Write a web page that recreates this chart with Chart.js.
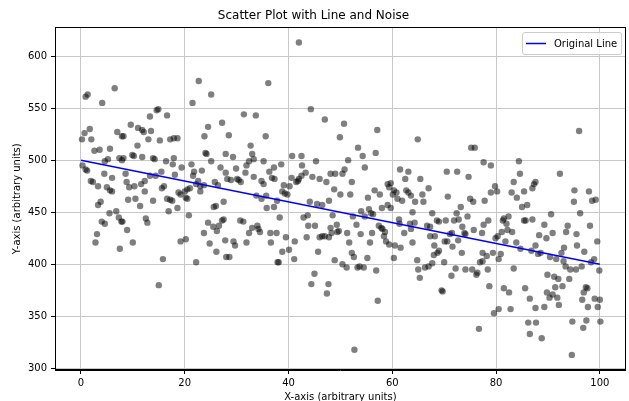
<!DOCTYPE html>
<html lang="en">
<head>
  <meta charset="UTF-8">
  <title>Scatter Plot with Line and Noise</title>
  <script src="https://cdn.jsdelivr.net/npm/chart.js"></script>
  <style>
    html, body { margin: 0; padding: 0; background: #fff; }
  </style>
</head>
<body>
  <canvas id="scatter-chart" width="629" height="401"></canvas>

  <script>
    // straight reference line
    const lineX = [0, 100];
    const lineY = [500, 400];

    // noisy samples left to right
    const noiseX = [
      0.9, 1.3, 6.5, 4.1, 1.7, 0.7, 0.2, 2.0, 7.0, 7.9, 2.6, 3.6, 5.6, 4.6, 5.2, 7.4, 7.9, 0.3, 0.9, 1.2, 4.5, 6.0, 1.9, 2.3, 3.3, 5.0, 5.6, 6.0, 3.8, 3.3, 6.8, 5.5, 7.3, 7.8, 4.0, 4.6, 3.1, 2.8, 7.5,
      14.6, 14.9, 13.3, 16.6, 9.6, 11.0, 11.8, 12.1, 13.5, 8.2, 13.0, 15.2, 17.2, 17.9, 10.9, 9.9, 10.2, 8.2, 11.8, 13.9, 14.2, 16.4, 17.9, 17.7, 8.6, 8.8, 9.3, 10.3, 11.6, 12.3, 13.3, 14.4, 15.5, 12.3, 16.0, 15.6, 18.1, 9.1, 10.5, 11.4, 13.9, 16.6, 17.2, 17.6, 16.9, 8.0, 12.5, 12.8, 8.9, 10.0, 15.8, 15.0,
      22.7, 25.1, 21.5, 27.2, 24.5, 23.8, 18.6, 24.0, 24.2, 25.1, 26.9, 19.4, 21.3, 21.8, 23.3, 21.6, 22.6, 22.2, 23.0, 23.7, 25.8, 26.4, 18.8, 19.2, 20.0, 20.5, 21.0, 20.2, 20.5, 23.0, 18.6, 27.5, 25.6, 26.0, 20.8, 24.5, 25.5, 26.6, 27.2, 27.5, 23.7, 26.2, 19.2, 20.2, 24.8, 27.8, 26.1, 28.0, 22.2,
      36.1, 31.4, 33.7, 28.5, 35.6, 32.7, 27.9, 29.3, 33.0, 33.3, 32.4, 31.9, 35.2, 37.2, 36.3, 29.9, 31.7, 27.9, 28.2, 28.9, 30.1, 30.4, 30.8, 33.3, 34.8, 35.2, 36.8, 37.3, 33.8, 34.8, 35.7, 35.8, 37.2, 37.8, 30.7, 31.3, 33.0, 34.0, 34.5, 34.2, 32.4, 36.5, 37.7, 29.4, 29.7, 31.9, 36.6, 28.6, 37.9,
      42.0, 44.3, 47.0, 40.7, 42.5, 38.6, 45.3, 42.6, 43.3, 42.5, 42.0, 41.5, 41.8, 40.6, 40.2, 39.1, 44.6, 46.0, 47.3, 48.1, 38.8, 39.3, 39.8, 44.1, 45.5, 46.5, 47.8, 38.3, 42.9, 43.7, 43.8, 45.1, 39.5, 41.2, 43.5, 46.0, 46.5, 47.0, 47.8, 38.8, 40.1, 45.7, 38.1, 41.1, 45.0, 44.4, 47.4,
      50.7, 49.9, 57.1, 53.4, 54.3, 56.8, 51.5, 50.8, 50.4, 54.7, 49.0, 52.2, 48.8, 50.0, 51.9, 56.6, 57.6, 55.3, 48.5, 52.4, 54.0, 55.5, 55.9, 54.7, 56.3, 57.4, 57.9, 49.3, 49.7, 49.4, 48.1, 48.3, 51.3, 53.1, 53.9, 55.7, 56.1, 51.7, 52.2, 52.6, 48.9, 50.4, 53.3, 53.7, 54.5, 51.2, 55.2, 56.9, 47.7, 57.2, 52.7,
      64.9, 61.5, 63.1, 62.5, 65.4, 67.0, 59.1, 59.7, 59.4, 60.3, 60.8, 60.1, 61.9, 61.0, 62.7, 63.1, 63.6, 64.4, 65.8, 66.0, 58.0, 59.1, 59.7, 63.9, 67.7, 61.3, 61.4, 62.3, 63.4, 64.3, 63.6, 66.7, 67.3, 67.3, 58.1, 58.6, 58.4, 58.8, 59.4, 60.5, 61.6, 60.3, 63.9, 64.8, 65.0, 65.3, 66.3, 67.0, 67.7,
      75.2, 75.9, 77.6, 70.5, 72.5, 74.7, 70.7, 75.0, 75.6, 77.8, 73.2, 72.4, 74.5, 68.6, 69.0, 70.3, 71.9, 72.8, 73.5, 73.9, 74.1, 75.7, 77.3, 77.6, 68.2, 71.1, 71.5, 70.1, 70.6, 72.7, 71.6, 68.1, 69.0, 68.7, 68.0, 73.4, 70.0, 72.2, 71.4, 74.1, 75.4, 76.4, 76.2, 76.9, 69.7, 69.5, 76.7,
      79.0, 84.4, 84.6, 79.8, 79.0, 80.2, 83.4, 87.3, 87.6, 87.0, 85.4, 83.0, 84.0, 85.0, 86.0, 78.5, 81.5, 82.4, 81.3, 82.0, 83.1, 85.4, 85.7, 87.0, 81.1, 82.2, 80.3, 79.9, 83.9, 81.8, 84.7, 86.8, 87.6, 77.4, 78.2, 79.4, 80.9, 80.5, 78.4, 78.7, 77.4, 83.4, 81.5, 82.5, 85.6, 86.5, 87.6, 80.5, 79.6, 82.8, 86.2, 87.7, 86.5,
      96.0, 92.3, 95.1, 95.0, 97.9, 98.5, 99.2, 96.2, 98.1, 90.6, 89.3, 88.3, 89.7, 90.9, 93.8, 93.5, 95.5, 99.5, 95.6, 97.0, 93.1, 92.6, 91.6, 90.4, 88.6, 88.1, 93.0, 93.4, 94.3, 95.4, 96.5, 98.9, 98.3, 99.9, 89.9, 91.2, 92.0, 94.1, 92.8, 91.4, 89.8, 90.9, 90.3, 91.8, 92.1, 97.3, 97.6, 96.9, 96.6, 97.7, 99.0, 100.0, 99.6, 89.3, 94.7, 97.4, 96.8, 100.1, 88.8, 94.6
    ];
    const noiseY = [
      561, 563, 569, 555, 530, 526, 520, 520, 527, 523, 509, 510, 511, 499, 501, 502, 500, 495, 491, 490, 487, 483, 480, 479, 475, 474, 471, 470, 460, 457, 451, 449, 445, 441, 441, 439, 429, 421, 415,
      548, 549, 542, 543, 534, 531, 529, 527, 528, 523, 520, 519, 520, 521, 514, 505, 504, 502, 503, 502, 501, 499, 502, 496, 487, 479, 474, 475, 477, 480, 485, 485, 489, 470, 475, 473, 486, 462, 463, 456, 461, 463, 462, 461, 451, 441, 444, 440, 433, 421, 405, 380,
      576, 563, 555, 536, 532, 523, 521, 507, 506, 499, 493, 493, 496, 489, 490, 485, 480, 477, 475, 476, 479, 476, 469, 467, 470, 472, 473, 464, 463, 470, 454, 460, 455, 456, 447, 440, 436, 437, 442, 443, 430, 432, 422, 424, 420, 423, 412, 407, 402,
      574, 544, 543, 524, 523, 514, 506, 503, 506, 501, 499, 495, 499, 493, 489, 492, 488, 488, 482, 481, 482, 481, 479, 484, 480, 477, 483, 482, 466, 463, 466, 454, 455, 461, 442, 441, 435, 437, 431, 434, 430, 430, 430, 422, 418, 421, 421, 407, 402,
      613, 549, 539, 504, 504, 496, 499, 495, 488, 485, 482, 479, 480, 483, 475, 476, 484, 482, 479, 487, 470, 468, 467, 460, 458, 457, 461, 445, 445, 447, 437, 437, 426, 422, 426, 426, 427, 427, 426, 412, 414, 412, 402, 405, 391, 381, 372,
      535, 522, 529, 512, 504, 507, 500, 491, 487, 493, 487, 479, 472, 467, 467, 471, 467, 464, 447, 446, 451, 453, 449, 446, 448, 437, 435, 438, 432, 431, 435, 430, 430, 438, 429, 421, 430, 421, 411, 407, 404, 400, 397, 398, 397, 397, 406, 394, 381, 365, 318,
      520, 491, 489, 482, 482, 473, 477, 478, 474, 471, 469, 467, 461, 463, 471, 469, 466, 460, 467, 460, 454, 457, 454, 450, 449, 443, 439, 430, 439, 440, 434, 437, 436, 427, 434, 431, 427, 422, 419, 418, 416, 406, 421, 404, 395, 387, 397, 398, 401,
      512, 512, 498, 489, 489, 484, 465, 463, 460, 461, 455, 449, 446, 442, 441, 442, 442, 443, 436, 430, 429, 433, 430, 438, 427, 429, 430, 422, 422, 423, 417, 418, 413, 411, 409, 411, 402, 396, 389, 395, 395, 392, 390, 402, 374, 375, 338,
      495, 499, 487, 475, 469, 470, 479, 477, 479, 473, 470, 469, 464, 455, 457, 442, 444, 446, 442, 439, 431, 442, 442, 443, 431, 433, 427, 425, 421, 422, 415, 413, 418, 411, 408, 411, 410, 405, 395, 379, 403, 396, 377, 373, 377, 367, 358, 357, 353, 357, 344, 344, 333,
      528, 487, 471, 460, 470, 461, 462, 449, 437, 448, 438, 428, 425, 430, 437, 431, 429, 422, 418, 412, 416, 411, 405, 407, 411, 410, 403, 398, 395, 395, 398, 405, 402, 394, 390, 388, 386, 386, 379, 378, 373, 371, 368, 368, 361, 378, 377, 373, 366, 359, 367, 366, 359, 359, 345, 346, 339, 345, 329, 313
    ];

    const xTicks = [0, 20, 40, 60, 80, 100];
    const yTicks = [300, 350, 400, 450, 500, 550, 600];

    Chart.defaults.font.family = "'DejaVu Sans', sans-serif";
    Chart.defaults.color = '#000';

    // matplotlib style box round the plot area
    const axesFrame = {
      id: 'axesFrame',
      afterDraw(chart) {
        const { ctx, chartArea: a } = chart;
        ctx.save();
        ctx.strokeStyle = '#000';
        ctx.lineWidth = 1;
        ctx.strokeRect(Math.round(a.left) + 0.5, Math.round(a.top) + 0.5,
          Math.round(a.right - a.left) - 1, Math.round(a.bottom - a.top) - 1);
        ctx.restore();
      }
    };

    // legend drawn inside the plot, upper right
    const innerLegend = {
      id: 'innerLegend',
      afterDraw(chart) {
        const { ctx, chartArea: a } = chart;
        const label = chart.data.datasets[0].label;
        ctx.save();
        ctx.font = "10px 'DejaVu Sans', sans-serif";
        const w = 4 + 20 + 8 + ctx.measureText(label).width + 4;
        const h = 22;
        const x = Math.round(a.right - 5 - w);
        const y = Math.round(a.top + 5);
        ctx.beginPath();
        ctx.roundRect(x + 0.5, y + 0.5, w, h, 2.5);
        ctx.fillStyle = 'rgba(255,255,255,0.8)';
        ctx.fill();
        ctx.strokeStyle = '#cccccc';
        ctx.lineWidth = 1;
        ctx.stroke();
        ctx.strokeStyle = '#0000ff';
        ctx.lineWidth = 1.5;
        ctx.beginPath();
        ctx.moveTo(x + 4, y + h / 2 + 0.5);
        ctx.lineTo(x + 24, y + h / 2 + 0.5);
        ctx.stroke();
        ctx.fillStyle = '#000';
        ctx.textBaseline = 'middle';
        ctx.fillText(label, x + 32, y + h / 2 + 1);
        ctx.restore();
      }
    };

    const ctx = document.getElementById('scatter-chart').getContext('2d');
    new Chart(ctx, {
      type: 'scatter',
      data: {
        datasets: [{
          label: 'Original Line',
          type: 'line',
          data: lineX.map((x, i) => ({ x: x, y: lineY[i] })),
          borderColor: '#0000ff',
          borderWidth: 1.5,
          pointRadius: 0,
          fill: false
        }, {
          label: 'Noisy Data',
          data: noiseX.map((x, i) => ({ x: x, y: noiseY[i] })),
          backgroundColor: 'rgba(0,0,0,0.5)',
          borderWidth: 0,
          pointRadius: 3.2,
          pointHoverRadius: 3.2
        }]
      },
      options: {
        responsive: false,
        animation: false,
        layout: { padding: { left: 0, right: 2, top: 0, bottom: 0 } },
        plugins: {
          legend: { display: false },
          tooltip: { enabled: false },
          title: {
            display: true,
            text: 'Scatter Plot with Line and Noise',
            color: '#000',
            font: { size: 12, weight: 'normal' },
            padding: { top: 9, bottom: 4 }
          }
        },
        scales: {
          x: {
            type: 'linear',
            min: -5,
            max: 105,
            afterBuildTicks: s => { s.ticks = xTicks.map(v => ({ value: v })); },
            afterFit: s => { s.height = 31; },
            grid: { color: '#c8c8c8', lineWidth: 1, tickLength: 4, tickColor: '#000' },
            border: { color: '#000', width: 1 },
            ticks: { font: { size: 10 }, color: '#000', padding: 3, maxRotation: 0 },
            title: { display: true, text: 'X-axis (arbitrary units)', font: { size: 10, lineHeight: 0.8 }, color: '#000', padding: 0 }
          },
          y: {
            type: 'linear',
            min: 298.5,
            max: 627.5,
            afterBuildTicks: s => { s.ticks = yTicks.map(v => ({ value: v })); },
            afterFit: s => { s.width = 55; },
            grid: { color: '#c8c8c8', lineWidth: 1, tickLength: 4, tickColor: '#000' },
            border: { color: '#000', width: 1 },
            ticks: { font: { size: 10 }, color: '#000', padding: 4 },
            title: { display: true, text: 'Y-axis (arbitrary units)', font: { size: 10 }, color: '#000', padding: { top: 11, bottom: 0 } }
          }
        }
      },
      plugins: [axesFrame, innerLegend]
    });
  </script>
</body>
</html>
